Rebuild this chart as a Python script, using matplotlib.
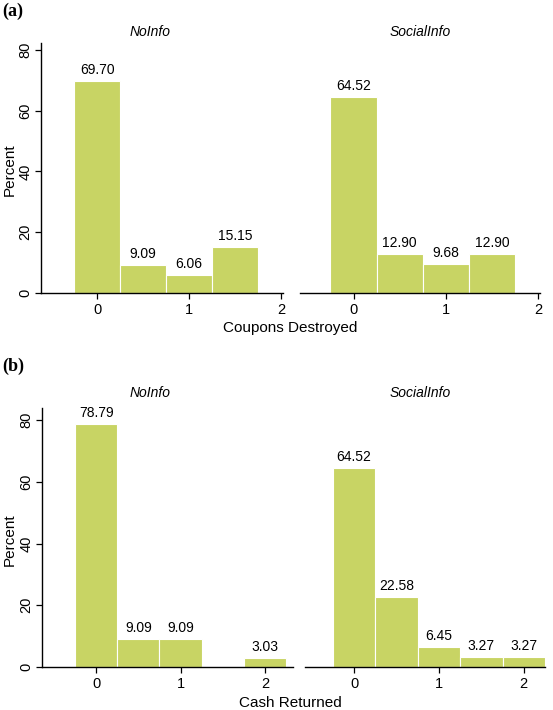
import numpy as np
import matplotlib.pyplot as plt

plt.rcParams['font.family'] = ['Liberation Sans', 'DejaVu Sans']

# panel (a): coupons destroyed, bins of width 0.5
coupons_bins = [0, 0.5, 1, 1.5]
coupons_noinfo = [69.70, 9.09, 6.06, 15.15]
coupons_social = [64.52, 12.90, 9.68, 12.90]

# panel (b): cash returned
cash_bins = [0, 0.5, 1, 1.5, 2]
cash_noinfo = [78.79, 9.09, 9.09, 0.0, 3.03]
cash_social = [64.52, 22.58, 6.45, 3.27, 3.27]

groups = ["NoInfo", "SocialInfo"]
bar_color = "#c8d464"

fig = plt.figure(figsize=(5.53, 7.10), dpi=100)

W, H = 553, 710


def px_axes(x0, x1, ytop, ybot):
    return fig.add_axes([x0 / W, 1 - ybot / H, (x1 - x0) / W, (ybot - ytop) / H])


def draw(ax, bins, vals, xlim, ylim, show_y):
    for b, v in zip(bins, vals):
        if v <= 0:
            continue
        ax.bar(b, v, width=0.5, color=bar_color, edgecolor="white", linewidth=0.8)
        ax.text(b, v + 1.3, f"{v:.2f}", ha="center", va="bottom", fontsize=10)
    ax.set_xlim(*xlim)
    ax.set_ylim(*ylim)
    ax.set_xticks([0, 1, 2])
    ax.tick_params(axis="x", length=4, width=0.9, labelsize=10.5, pad=3)
    for s in ["top", "right"]:
        ax.spines[s].set_visible(False)
    ax.spines["bottom"].set_linewidth(1.0)
    ax.spines["left"].set_linewidth(1.0)
    if show_y:
        ax.set_yticks([0, 20, 40, 60, 80])
        ax.tick_params(axis="y", length=4, width=0.9, labelsize=10.5, pad=2)
        for lab in ax.get_yticklabels():
            lab.set_rotation(90)
            lab.set_va("center")
    else:
        ax.spines["left"].set_visible(False)
        ax.set_yticks([])
    ax.set_facecolor("white")


# panel (a)
ax1 = px_axes(41, 283, 43, 293)
draw(ax1, coupons_bins, coupons_noinfo, (-0.61, 2.02), (0, 82.3), True)
ax2 = px_axes(300, 540, 43, 293)
draw(ax2, coupons_bins, coupons_social, (-0.58, 2.02), (0, 82.3), False)

# panel (b)
ax3 = px_axes(42, 293, 408, 667)
draw(ax3, cash_bins, cash_noinfo, (-0.64, 2.33), (0, 83.9), True)
ax4 = px_axes(305, 545, 408, 667)
draw(ax4, cash_bins, cash_social, (-0.58, 2.25), (0, 83.9), False)

# titles and labels
fig.text(150 / W, 1 - 32 / H, groups[0], style="italic", ha="center", va="center", fontsize=10)
fig.text(420 / W, 1 - 32 / H, groups[1], style="italic", ha="center", va="center", fontsize=10)
fig.text(150 / W, 1 - 393 / H, groups[0], style="italic", ha="center", va="center", fontsize=10)
fig.text(420 / W, 1 - 393 / H, groups[1], style="italic", ha="center", va="center", fontsize=10)

fig.text(290 / W, 1 - 328 / H, "Coupons Destroyed", ha="center", va="center", fontsize=11)
fig.text(290 / W, 1 - 703 / H, "Cash Returned", ha="center", va="center", fontsize=11)
fig.text(10 / W, 1 - 170 / H, "Percent", rotation=90, ha="center", va="center", fontsize=11)
fig.text(10 / W, 1 - 540 / H, "Percent", rotation=90, ha="center", va="center", fontsize=11)

fig.text(2 / W, 1 - 11 / H, "(a)", family="Liberation Serif", weight="bold", ha="left", va="center", fontsize=13)
fig.text(2 / W, 1 - 366 / H, "(b)", family="Liberation Serif", weight="bold", ha="left", va="center", fontsize=13)

fig.savefig("out.png", dpi=100)
